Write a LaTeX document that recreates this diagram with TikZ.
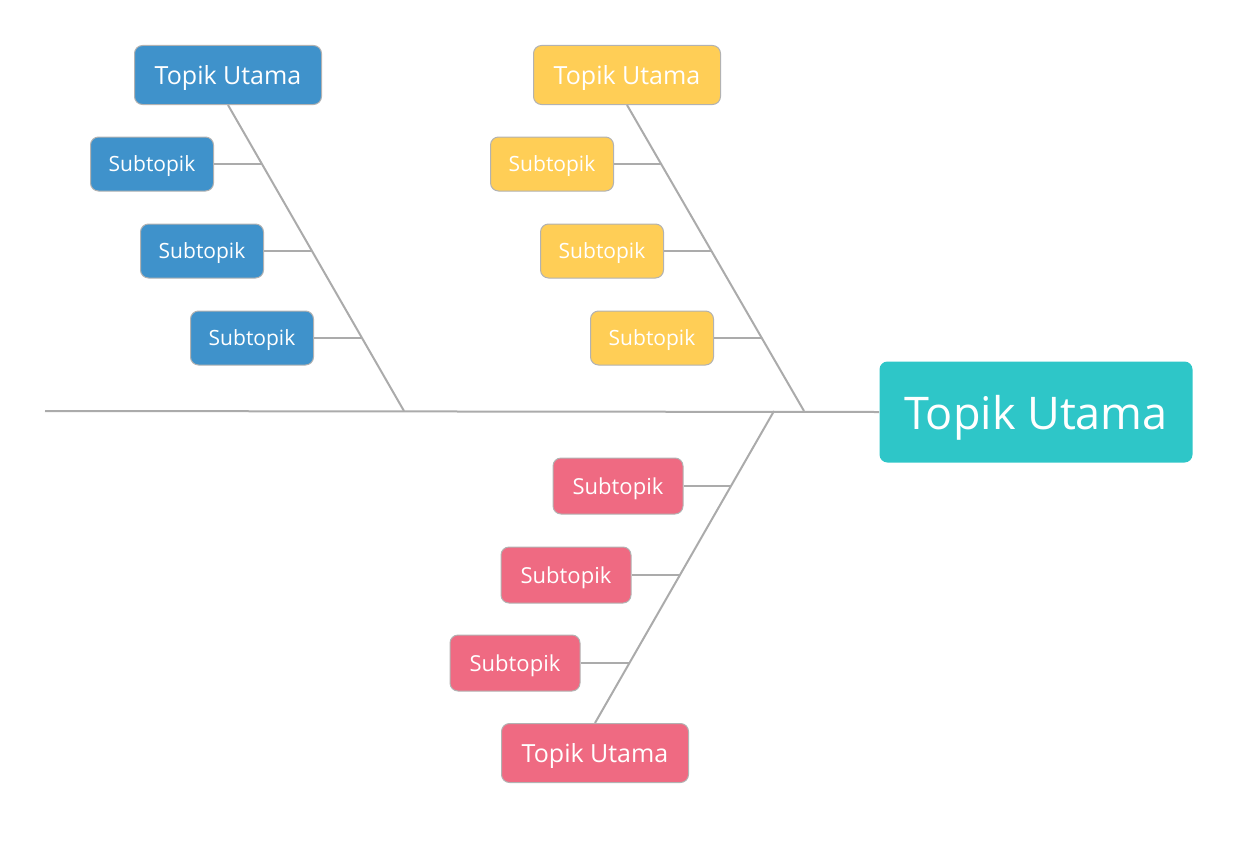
\documentclass[tikz,border=0pt]{standalone}
\usepackage{fontspec}
\setmainfont{Open Sans}
\begin{document}
\begin{tikzpicture}[x=1pt,y=-1pt,
  box/.style={draw=black!30,line width=1pt,rounded corners=8pt,text=white,inner sep=0pt,anchor=center,text depth=0pt},
  sub/.style={box,minimum width=123pt,minimum height=54pt,font=\fontsize{21}{24}\selectfont},
  top/.style={box,minimum width=187pt,minimum height=59pt,font=\fontsize{25}{28}\selectfont},
  bone/.style={draw=black!33,line width=2pt},
  twig/.style={draw=black!33,line width=1.2pt}]
\definecolor{cb}{HTML}{3F92CB}
\definecolor{cy}{HTML}{FFCE56}
\definecolor{cp}{HTML}{EF6A82}
\definecolor{cm}{HTML}{2EC6C8}
\useasboundingbox (0,0) rectangle (1238,843);
\coordinate (L) at (45,411);
\coordinate (jb) at (404,411);
\coordinate (jy) at (804,411);
\coordinate (jp) at (774,411);
\node[box,fill=cm,draw=none,minimum width=313pt,minimum height=101pt,font=\fontsize{45}{50}\selectfont] (M) at (1036,412) {Topik Utama};
\draw[bone] (L) -- (M.west);
% blue
\node[top,fill=cb] (B) at (228,75) {Topik Utama};
\draw[bone] (B.south) -- (jb);
\coordinate (b1) at (262.4,164); \coordinate (b2) at (312.3,251); \coordinate (b3) at (362.1,338);
\node[sub,fill=cb] (B1) at (152,164) {Subtopik};
\node[sub,fill=cb] (B2) at (202,251) {Subtopik};
\node[sub,fill=cb] (B3) at (252,338) {Subtopik};
\draw[twig] (B1.east) -- (b1); \draw[twig] (B2.east) -- (b2); \draw[twig] (B3.east) -- (b3);
% yellow
\node[top,fill=cy] (Y) at (627,75) {Topik Utama};
\draw[bone] (Y.south) -- (jy);
\coordinate (y1) at (661.4,164); \coordinate (y2) at (711.3,251); \coordinate (y3) at (761.1,338);
\node[sub,fill=cy] (Y1) at (552,164) {Subtopik};
\node[sub,fill=cy] (Y2) at (602,251) {Subtopik};
\node[sub,fill=cy] (Y3) at (652,338) {Subtopik};
\draw[twig] (Y1.east) -- (y1); \draw[twig] (Y2.east) -- (y2); \draw[twig] (Y3.east) -- (y3);
% pink
\node[top,fill=cp] (P) at (595,753) {Topik Utama};
\draw[bone] (P.north) -- (jp);
\coordinate (p1) at (731.1,486); \coordinate (p2) at (680.2,575); \coordinate (p3) at (629.9,663);
\node[sub,fill=cp,minimum width=130pt,minimum height=56pt,font=\fontsize{22}{25}\selectfont] (P1) at (618,486) {Subtopik};
\node[sub,fill=cp,minimum width=130pt,minimum height=56pt,font=\fontsize{22}{25}\selectfont] (P2) at (566,575) {Subtopik};
\node[sub,fill=cp,minimum width=130pt,minimum height=56pt,font=\fontsize{22}{25}\selectfont] (P3) at (515,663) {Subtopik};
\draw[twig] (P1.east) -- (p1); \draw[twig] (P2.east) -- (p2); \draw[twig] (P3.east) -- (p3);
\end{tikzpicture}
\end{document}
